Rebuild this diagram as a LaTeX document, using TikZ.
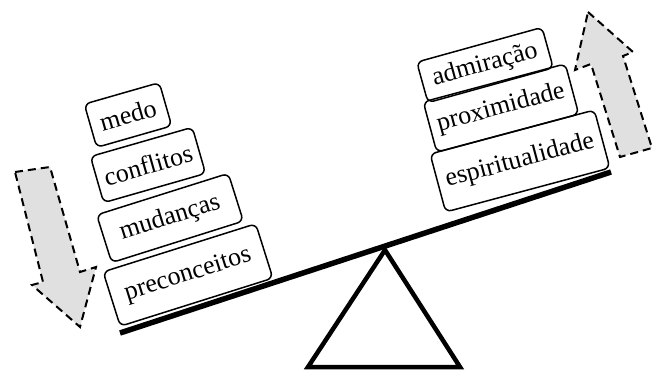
\documentclass[tikz,border=0pt]{standalone}
\usepackage{fontspec}
\setmainfont{Liberation Serif}
\newfontfamily\wordfont{Liberation Serif}
\usetikzlibrary{positioning}
\tikzset{word/.style={draw, line width=1.5pt, rounded corners=6pt, inner sep=0, outer sep=0,
    font=\wordfont\fontsize{26}{30}\selectfont, minimum height=#1}}
\tikzset{push/.style={draw, line width=2pt, dash pattern=on 8pt off 5pt, fill=black!12}}
\newcommand{\drawword}{\node[word=50pt]}

\begin{document}
\begin{tikzpicture}[x=1pt,y=-1pt]
	\useasboundingbox (0,0) rectangle (661,371);

	% arrows
	\draw[push] (15,172) -- (50,167) -- (80,272) -- (96,267) -- (80,327) -- (32,285) -- (43,282) -- cycle;
	\draw[push] (588,12) -- (633,52) -- (623,56) -- (652,148) -- (620,157) -- (591,64) -- (575,70) -- cycle;

	% left pan
	\drawword[minimum width=160pt, minimum height=57pt, rotate=17.5] (pre) at (188,275) {preconceitos};
	\drawword[minimum width=138pt, rotate=17.5] (mud) at (170,218) {mudanças};
	\drawword[minimum width=106pt, minimum height=48pt, rotate=16] (con) at (148,165) {conflitos};
	\drawword[minimum width=78pt, minimum height=45pt, rotate=16] (med) at (128,115) {medo};

	% right pan
	\drawword[minimum width=170pt, minimum height=60pt, rotate=15] (esp) at (520,161) {espiritualidade};
	\drawword[minimum width=147pt, minimum height=52pt, rotate=15] (pro) at (501,108) {proximidade};
	\drawword[minimum width=130pt, minimum height=42pt, rotate=15.5] (adm) at (485,65) {admiração};

	% beam and pivot
	\coordinate (bl) at (120,333);
	\coordinate (br) at (611,172);
	\coordinate (top) at (385,250);
	\draw[line width=5.5pt] (bl) -- (br);
	\draw[line width=4.5pt, line join=miter] (top) -- (460,367) -- (308,367) -- cycle;
\end{tikzpicture}
\end{document}
